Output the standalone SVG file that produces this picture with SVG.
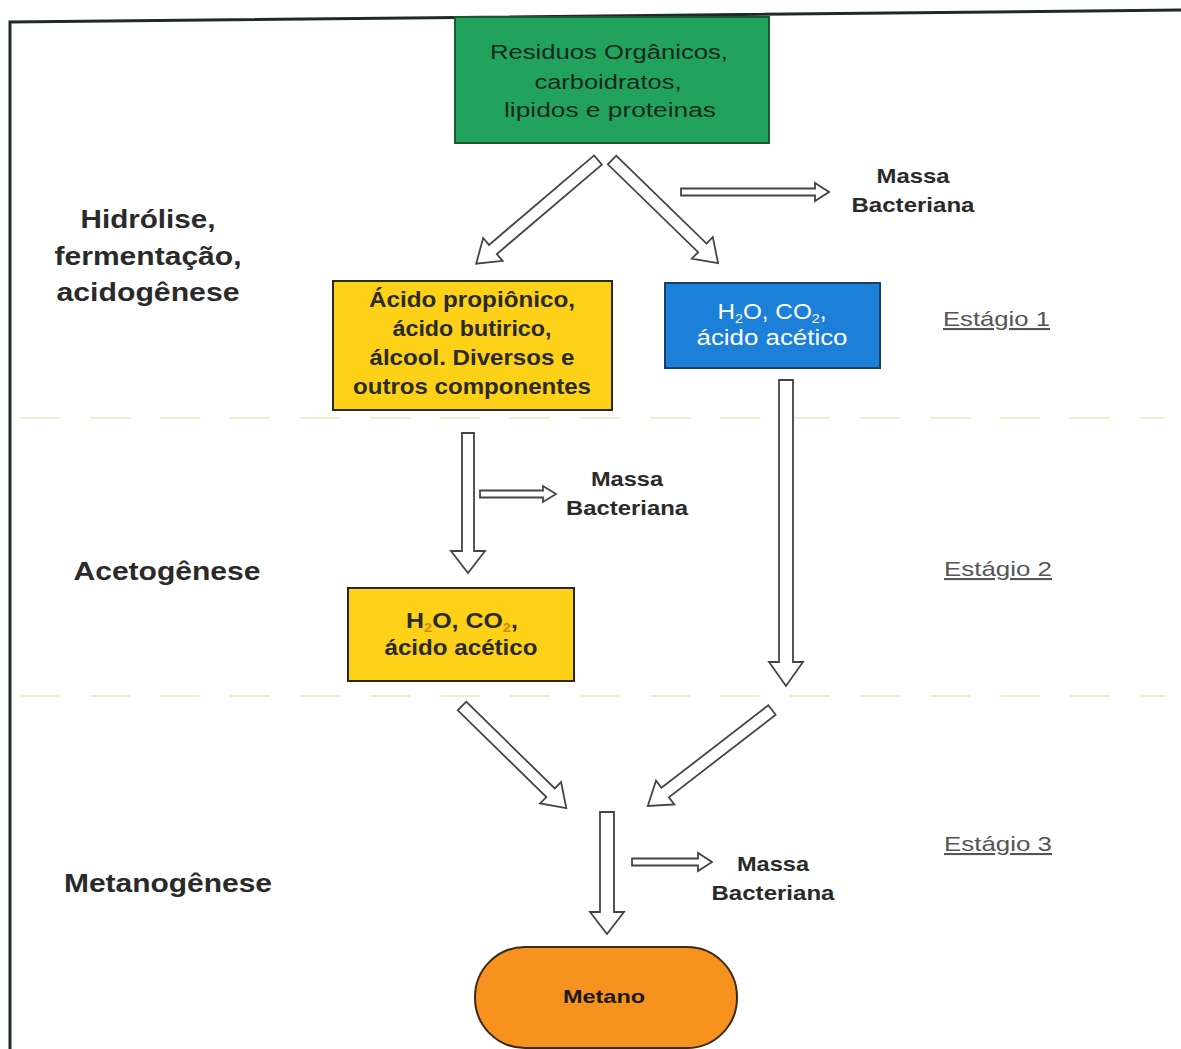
<svg xmlns="http://www.w3.org/2000/svg" width="1181" height="1049" viewBox="0 0 1181 1049">
<defs>
<style>
text{font-family:"Liberation Sans",Arial,sans-serif}
.lbl{font-weight:bold;fill:#2a2a2a;text-anchor:middle}
.reg{font-weight:normal}
.stage{font-size:21px;fill:#555;text-anchor:start;text-decoration:underline}
.arrow{fill:#fff;stroke:#444;stroke-width:1.8;stroke-linejoin:miter}
.sep{stroke:#f2ecc8;stroke-width:2;stroke-dasharray:40 30}
</style>
</defs>
<rect width="1181" height="1049" fill="#fff"/>
<path d="M10 1049 L10 22 L1181 10" fill="none" stroke="#1e2a26" stroke-width="3"/>
<line class="sep" x1="20" y1="418" x2="1165" y2="418"/>
<line class="sep" x1="20" y1="696" x2="1165" y2="696"/>

<g id="labels">
<text class="lbl" font-size="25" x="148" y="228" textLength="135" lengthAdjust="spacingAndGlyphs">Hidrólise,</text>
<text class="lbl" font-size="25" x="148" y="265" textLength="187" lengthAdjust="spacingAndGlyphs">fermentação,</text>
<text class="lbl" font-size="25" x="148" y="301" textLength="183" lengthAdjust="spacingAndGlyphs">acidogênese</text>
<text class="lbl" font-size="25" x="167" y="580" textLength="187" lengthAdjust="spacingAndGlyphs">Acetogênese</text>
<text class="lbl" font-size="25" x="168" y="892" textLength="208" lengthAdjust="spacingAndGlyphs">Metanogênese</text>
<text class="stage" x="943" y="326" textLength="107" lengthAdjust="spacingAndGlyphs">Estágio 1</text>
<text class="stage" x="944" y="576" textLength="108" lengthAdjust="spacingAndGlyphs">Estágio 2</text>
<text class="stage" x="944" y="851" textLength="108" lengthAdjust="spacingAndGlyphs">Estágio 3</text>
</g>

<g id="massa1"><text class="lbl" font-size="21" x="913" y="183" textLength="73" lengthAdjust="spacingAndGlyphs">Massa</text><text class="lbl" font-size="21" x="913" y="212" textLength="123" lengthAdjust="spacingAndGlyphs">Bacteriana</text></g>
<g id="massa2"><text class="lbl" font-size="21" x="627" y="486" textLength="72" lengthAdjust="spacingAndGlyphs">Massa</text><text class="lbl" font-size="21" x="627" y="515" textLength="122" lengthAdjust="spacingAndGlyphs">Bacteriana</text></g>
<g id="massa3"><text class="lbl" font-size="21" x="773" y="871" textLength="72" lengthAdjust="spacingAndGlyphs">Massa</text><text class="lbl" font-size="21" x="773" y="900" textLength="123" lengthAdjust="spacingAndGlyphs">Bacteriana</text></g>

<g id="residuos">
<rect x="455" y="17" width="314" height="126" fill="#22a35d" stroke="#1a5a35" stroke-width="2"/>
<text class="lbl reg" font-size="20" fill="#15281b" style="fill:#15281b" x="609" y="59" textLength="238" lengthAdjust="spacingAndGlyphs">Residuos Orgânicos,</text>
<text class="lbl reg" font-size="20" style="fill:#15281b" x="608" y="89" textLength="147" lengthAdjust="spacingAndGlyphs">carboidratos,</text>
<text class="lbl reg" font-size="20" style="fill:#15281b" x="610" y="117" textLength="212" lengthAdjust="spacingAndGlyphs">lipidos e proteinas</text>
</g>

<g id="acidos">
<rect x="333" y="281" width="279" height="129" fill="#fdd117" stroke="#2a2a1a" stroke-width="2"/>
<text class="lbl" font-size="22" x="472" y="307" textLength="206" lengthAdjust="spacingAndGlyphs">Ácido propiônico,</text>
<text class="lbl" font-size="22" x="472" y="336" textLength="159" lengthAdjust="spacingAndGlyphs">ácido butirico,</text>
<text class="lbl" font-size="22" x="472" y="365" textLength="205" lengthAdjust="spacingAndGlyphs">álcool. Diversos e</text>
<text class="lbl" font-size="22" x="472" y="394" textLength="238" lengthAdjust="spacingAndGlyphs">outros componentes</text>
</g>

<g id="acetico1">
<rect x="665" y="283" width="215" height="85" fill="#1c80d9" stroke="#1a3f66" stroke-width="2"/>
<text class="lbl reg" font-size="22" style="fill:#fff" x="772" y="319" textLength="109" lengthAdjust="spacingAndGlyphs">H<tspan font-size="13" dy="4">2</tspan><tspan dy="-4">O, CO</tspan><tspan font-size="13" dy="4">2</tspan><tspan dy="-4">,</tspan></text>
<text class="lbl reg" font-size="22" style="fill:#fff" x="772" y="345" textLength="151" lengthAdjust="spacingAndGlyphs">ácido acético</text>
</g>

<g id="acetico2">
<rect x="348" y="588" width="226" height="93" fill="#fdd117" stroke="#2a2a1a" stroke-width="2"/>
<text class="lbl" font-size="22" x="462" y="628" textLength="112" lengthAdjust="spacingAndGlyphs">H<tspan font-size="13" dy="4" style="fill:#d08a00">2</tspan><tspan dy="-4">O, CO</tspan><tspan font-size="13" dy="4" style="fill:#d08a00">2</tspan><tspan dy="-4">,</tspan></text>
<text class="lbl" font-size="22" x="461" y="655" textLength="153" lengthAdjust="spacingAndGlyphs">ácido acético</text>
</g>

<g id="metano">
<rect x="475" y="947" width="262" height="101" rx="50" ry="50" fill="#f7921f" stroke="#3a2a1a" stroke-width="2"/>
<text class="lbl" font-size="19" style="fill:#1a1a1a" x="604" y="1003" textLength="82" lengthAdjust="spacingAndGlyphs">Metano</text>
</g>

<g id="connectors">
<polygon class="arrow" points="0,-6 138,-6 138,-15 160,0 138,15 138,6 0,6" transform="translate(598,160) rotate(139.6)"/>
<polygon class="arrow" points="0,-6 126,-6 126,-15 148,0 126,15 126,6 0,6" transform="translate(612,160) rotate(44.2)"/>
<polygon class="arrow" points="0,-3.5 134,-3.5 134,-9 148,0 134,9 134,3.5 0,3.5" transform="translate(681,192)"/>
<polygon class="arrow" points="0,-6 118,-6 118,-17 140,0 118,17 118,6 0,6" transform="translate(468,433) rotate(90)"/>
<polygon class="arrow" points="0,-3.5 63,-3.5 63,-8 76,0 63,8 63,3.5 0,3.5" transform="translate(480,494)"/>
<polygon class="arrow" points="0,-7 282,-7 282,-17 306,0 282,17 282,7 0,7" transform="translate(786,380) rotate(90)"/>
<polygon class="arrow" points="0,-6 124,-6 124,-15 146,0 124,15 124,6 0,6" transform="translate(462,706) rotate(44.4)"/>
<polygon class="arrow" points="0,-6 135,-6 135,-15 157,0 135,15 135,6 0,6" transform="translate(772,710) rotate(142.3)"/>
<polygon class="arrow" points="0,-7 100,-7 100,-17 122,0 100,17 100,7 0,7" transform="translate(607,812) rotate(90)"/>
<polygon class="arrow" points="0,-3.5 66,-3.5 66,-9 80,0 66,9 66,3.5 0,3.5" transform="translate(632,862)"/>
</g>
</svg>
